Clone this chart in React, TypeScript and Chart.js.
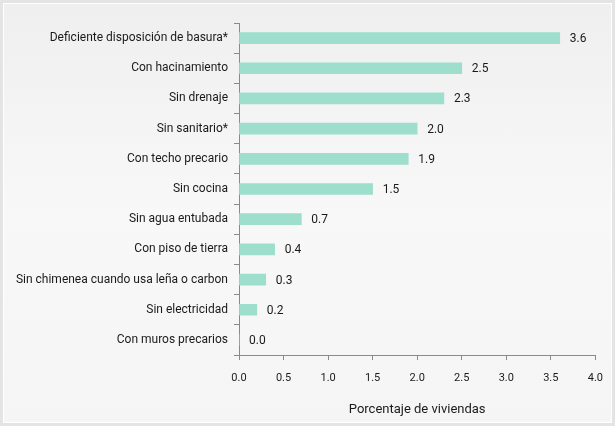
import React, { useEffect, useRef } from "react";
import { Chart, registerables } from "chart.js";

Chart.register(...registerables);

const categories = [
  "Deficiente disposición de basura*",
  "Con hacinamiento",
  "Sin drenaje",
  "Sin sanitario*",
  "Con techo precario",
  "Sin cocina",
  "Sin agua entubada",
  "Con piso de tierra",
  "Sin chimenea cuando usa leña o carbon",
  "Sin electricidad",
  "Con muros precarios",
];
const values = [3.6, 2.5, 2.3, 2.0, 1.9, 1.5, 0.7, 0.4, 0.3, 0.2, 0.0];
const xTitle = "Porcentaje de viviendas";

const FONT = "Roboto, sans-serif";

const valueLabels = {
  id: "valueLabels",
  afterDatasetsDraw(chart: any) {
    const ctx = chart.ctx;
    const meta = chart.getDatasetMeta(0);
    ctx.save();
    ctx.font = `12px ${FONT}`;
    ctx.fillStyle = "#1a1a1a";
    ctx.textAlign = "left";
    ctx.textBaseline = "middle";
    meta.data.forEach((bar: any, i: number) => {
      ctx.fillText(values[i].toFixed(1), bar.x + 10, bar.y + 1);
    });
    ctx.restore();
  },
};

export default function App() {
  const ref = useRef<HTMLCanvasElement>(null);
  useEffect(() => {
    document.body.style.margin = "0";
    const chart = new Chart(ref.current!, {
      type: "bar",
      data: {
        labels: categories,
        datasets: [
          {
            data: values,
            backgroundColor: "#9ddfcc",
            barThickness: 11,
          },
        ],
      },
      plugins: [valueLabels],
      options: {
        indexAxis: "y",
        animation: false,
        responsive: false,
        maintainAspectRatio: false,
        layout: { padding: { top: 23, right: 13, bottom: 0, left: 0 } },
        plugins: { legend: { display: false }, tooltip: { enabled: false } },
        scales: {
          y: {
            afterFit: (s: any) => {
              s.width = 239;
            },
            border: { color: "#8a8a8a", width: 1 },
            grid: {
              drawOnChartArea: false,
              drawTicks: true,
              tickLength: 5,
              color: "#8a8a8a",
              offset: true,
            },
            ticks: {
              color: "#1a1a1a",
              padding: 6,
              font: { family: FONT, size: 12 },
            },
          },
          x: {
            min: 0,
            max: 4,
            afterFit: (s: any) => {
              s.height = 71;
            },
            border: { color: "#8a8a8a", width: 1 },
            grid: {
              drawOnChartArea: false,
              drawTicks: true,
              tickLength: 5,
              color: "#8a8a8a",
            },
            ticks: {
              stepSize: 0.5,
              color: "#1a1a1a",
              padding: 12,
              maxRotation: 0,
              font: { family: FONT, size: 11 },
              callback: (v: any) => Number(v).toFixed(1),
            },
            title: {
              display: true,
              text: xTitle,
              color: "#1a1a1a",
              font: { family: FONT, size: 13 },
              padding: { top: 4, bottom: 8 },
            },
          },
        },
      },
    });
    return () => chart.destroy();
  }, []);
  return (
    <div
      style={{
        position: "absolute",
        left: 0,
        top: 0,
        width: 615,
        height: 426,
        boxSizing: "border-box",
        border: "3px solid #e4e4e4",
        outline: "1px solid #fff",
        outlineOffset: -4,
        background: "linear-gradient(180deg, #efefef 0%, #f8f8f8 50%, #f5f5f5 100%)",
      }}
    >
      <canvas
        ref={ref}
        width={615}
        height={426}
        style={{ position: "absolute", left: -3, top: -3, width: 615, height: 426 }}
      />
    </div>
  );
}
